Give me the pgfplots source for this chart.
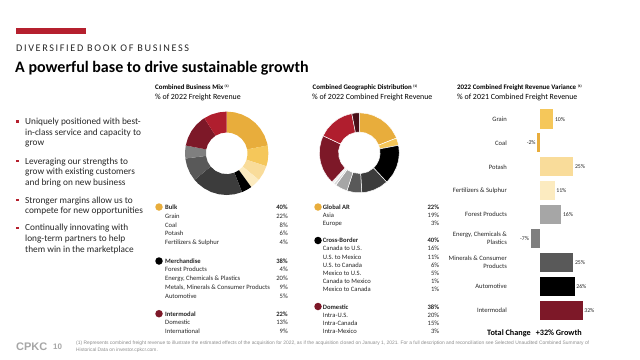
\documentclass[border=0pt]{standalone}
\usepackage{pgfplots}
\pgfplotsset{compat=1.18}
\usepgfplotslibrary{polar}
\usepackage{fontspec}
\setmainfont{Carlito}
\newfontfamily\arialfont{Liberation Sans}
\newfontfamily\spacedfont[LetterSpace=16]{Carlito}
\definecolor{cpred}{HTML}{B5202E}
\definecolor{gold}{HTML}{E8AD3C}
\definecolor{gold2}{HTML}{F5C75A}
\definecolor{tan1}{HTML}{F9DC9A}
\definecolor{tan2}{HTML}{FCEBC0}
\definecolor{dred}{HTML}{7D1828}
\definecolor{mred}{HTML}{B01E2E}
\definecolor{maroon}{HTML}{4A0F18}
\definecolor{gA}{HTML}{3C3C3C}
\definecolor{gB}{HTML}{595959}
\definecolor{gC}{HTML}{7F7F7F}
\definecolor{gD}{HTML}{A6A6A6}
\definecolor{gE}{HTML}{D9D9D9}
\definecolor{gF}{HTML}{EFEFEF}
\definecolor{txt}{HTML}{262626}
\definecolor{foot}{HTML}{8C8C8C}
\newcommand{\fs}[2]{\fontsize{#1bp}{#2bp}\selectfont}
\newcommand{\fnref}{\raisebox{2.2bp}{\fs{3.6}{4}(1)}}
\begin{document}
\begin{tikzpicture}[x=1bp,y=-1bp]
\path[use as bounding box] (0,0) rectangle (640,359);
% header
\node[anchor=north west,inner sep=0,outer sep=0] at (16,28) {\textcolor{cpred}{\rule{70bp}{6bp}}};
\node[anchor=base west,inner sep=0,text=txt,font=\spacedfont\fs{10.2}{12}] at (16,51) {DIVERSIFIED BOOK OF BUSINESS};
\node[anchor=base west,inner sep=0,text=black,font=\bfseries\fs{16}{18}] at (15,72) {A powerful base to drive sustainable growth};
% bullets
\foreach \yy/\tt in {124.5/{Uniquely positioned with best-},135.2/{in-class service and capacity to},145.9/{grow},
  164/{Leveraging our strengths to},174.7/{grow with existing customers},185.4/{and bring on new business},
  203/{Stronger margins allow us to},213.7/{compete for new opportunities},
  230.8/{Continually innovating with},241.5/{long-term partners to help},252.2/{them win in the marketplace}}
  {\node[anchor=base west,inner sep=0,text=txt,font=\fs{9.3}{11}] at (25,\yy) {\tt};}
\foreach \yy in {124.5,164,203,230.8}{\node[anchor=south west,inner sep=0,outer sep=0,fill=cpred,minimum width=2.3bp,minimum height=2.3bp] at (16.2,\yy-1.8) {};}
% panel headers
\node[anchor=base west,inner sep=0,font=\bfseries\fs{6.9}{8}] at (155,89.5) {Combined Business Mix \fnref};
\node[anchor=base west,inner sep=0,font=\fs{7.9}{9}] at (155,99.5) {\% of 2022 Freight Revenue};
\node[anchor=base west,inner sep=0,font=\bfseries\fs{6.9}{8}] at (312.5,89.5) {Combined Geographic Distribution \fnref};
\node[anchor=base west,inner sep=0,font=\fs{7.9}{9}] at (312,99.5) {\% of 2022 Combined Freight Revenue};
\node[anchor=base west,inner sep=0,font=\bfseries\fs{6.9}{8}] at (457,89.5) {2022 Combined Freight Revenue Variance \fnref};
\node[anchor=base west,inner sep=0,font=\fs{7.9}{9}] at (457,99.5) {\% of 2021 Combined Freight Revenue};
% donut 1
\begin{polaraxis}[at={(226.7bp,-153.3bp)},anchor=center,scale only axis,width=83.4bp,height=83.4bp,
  ymin=0,ymax=1,hide axis,clip=false,x filter/.expression={90-3.6*x}]
\addplot[fill=gold,draw=none] coordinates {(0,1)(3,1)(6,1)(9,1)(12,1)(15,1)(18,1)(21,1)(22,1)(22,.5)(17.5,.5)(13,.5)(8.5,.5)(4,.5)(0,.5)} --cycle;
\addplot[fill=gold2,draw=none] coordinates {(22,1)(25,1)(28,1)(30,1)(30,.5)(26,.5)(22,.5)} --cycle;
\addplot[fill=tan1,draw=none] coordinates {(30,1)(33,1)(36,1)(36,.5)(33,.5)(30,.5)} --cycle;
\addplot[fill=tan2,draw=none] coordinates {(36,1)(38,1)(40,1)(40,.5)(36,.5)} --cycle;
\addplot[fill=black,draw=none] coordinates {(40,1)(42,1)(44,1)(44,.5)(40,.5)} --cycle;
\addplot[fill=gA,draw=none] coordinates {(44,1)(47,1)(50,1)(53,1)(56,1)(59,1)(62,1)(64,1)(64,.5)(59,.5)(54,.5)(49,.5)(44,.5)} --cycle;
\addplot[fill=gB,draw=none] coordinates {(64,1)(67,1)(70,1)(73,1)(73,.5)(68.5,.5)(64,.5)} --cycle;
\addplot[fill=gC,draw=none] coordinates {(73,1)(75.5,1)(78,1)(78,.5)(73,.5)} --cycle;
\addplot[fill=dred,draw=none] coordinates {(78,1)(81,1)(84,1)(87,1)(90,1)(91,1)(91,.5)(86.5,.5)(82,.5)(78,.5)} --cycle;
\addplot[fill=mred,draw=none] coordinates {(91,1)(94,1)(97,1)(100,1)(100,.5)(95.5,.5)(91,.5)} --cycle;
\end{polaraxis}
% donut 2
\begin{polaraxis}[at={(359.3bp,-152.8bp)},anchor=center,scale only axis,width=80bp,height=80bp,
  ymin=0,ymax=1,hide axis,clip=false,x filter/.expression={90-3.6*x},
  every axis plot/.append style={draw=white,line width=0.5bp}]
\addplot[fill=gold] coordinates {(0,1)(3,1)(6,1)(9,1)(12,1)(15,1)(18,1)(19,1)(19,.52)(14.5,.52)(10,.52)(5,.52)(0,.52)} --cycle;
\addplot[fill=gold2] coordinates {(19,1)(20.5,1)(22,1)(22,.52)(19,.52)} --cycle;
\addplot[fill=black] coordinates {(22,1)(25,1)(28,1)(31,1)(34,1)(37,1)(38,1)(38,.52)(34,.52)(30,.52)(26,.52)(22,.52)} --cycle;
\addplot[fill=gA] coordinates {(38,1)(41,1)(44,1)(47,1)(49,1)(49,.52)(43.5,.52)(38,.52)} --cycle;
\addplot[fill=gB] coordinates {(49,1)(52,1)(55,1)(55,.52)(49,.52)} --cycle;
\addplot[fill=gD] coordinates {(55,1)(57.5,1)(60,1)(60,.52)(55,.52)} --cycle;
\addplot[fill=gE] coordinates {(60,1)(61,1)(61,.52)(60,.52)} --cycle;
\addplot[fill=gF] coordinates {(61,1)(62,1)(62,.52)(61,.52)} --cycle;
\addplot[fill=dred] coordinates {(62,1)(65,1)(68,1)(71,1)(74,1)(77,1)(80,1)(82,1)(82,.52)(77,.52)(72,.52)(67,.52)(62,.52)} --cycle;
\addplot[fill=mred] coordinates {(82,1)(85,1)(88,1)(91,1)(94,1)(97,1)(97,.52)(92,.52)(87,.52)(82,.52)} --cycle;
\addplot[fill=maroon] coordinates {(97,1)(98.5,1)(100,1)(100,.52)(97,.52)} --cycle;
\end{polaraxis}
% legend 1
\node[circle,fill=gold,minimum size=7.5bp,inner sep=0] at (159,207) {};
\node[circle,fill=black,minimum size=7.5bp,inner sep=0] at (159,261) {};
\node[circle,fill=dred,minimum size=7.5bp,inner sep=0] at (159,313.7) {};
\foreach \yy/\aa/\bb/\ff in {209.5/Bulk/40/\bfseries,218.3/Grain/22/,227.1/Coal/8/,235.9/Potash/6/,244.7/{Fertilizers \& Sulphur}/4/,
  263/Merchandise/38/\bfseries,271.8/{Forest Products}/4/,280.6/{Energy, Chemicals \& Plastics}/20/,289.4/{Metals, Minerals \& Consumer Products}/9/,298.2/Automotive/5/,
  316/Intermodal/22/\bfseries,324.8/Domestic/13/,333.6/International/9/}
{\node[anchor=base west,inner sep=0,text=txt,font=\ff\fs{6.6}{8}] at (165,\yy) {\aa};
 \node[anchor=base east,inner sep=0,text=txt,font=\ff\fs{6.6}{8}] at (288,\yy) {\bb\%};}
% legend 2
\node[circle,fill=gold,minimum size=7.5bp,inner sep=0] at (318,207) {};
\node[circle,fill=black,minimum size=7.5bp,inner sep=0] at (318,240.5) {};
\node[circle,fill=dred,minimum size=7.5bp,inner sep=0] at (318,306.5) {};
\foreach \yy/\aa/\bb/\ff in {209.2/{Global AR}/22/\bfseries,217.4/Asia/19/,225.6/Europe/3/,
  242.7/Cross-Border/40/\bfseries,250.9/{Canada to U.S.}/16/,259.1/{U.S. to Mexico}/11/,267.3/{U.S. to Canada}/6/,275.5/{Mexico to U.S.}/5/,283.7/{Canada to Mexico}/1/,291.9/{Mexico to Canada}/1/,
  309/Domestic/38/\bfseries,317.2/Intra-U.S./20/,325.4/Intra-Canada/15/,333.6/Intra-Mexico/3/}
{\node[anchor=base west,inner sep=0,text=txt,font=\ff\fs{6.6}{8}] at (322.7,\yy) {\aa};
 \node[anchor=base east,inner sep=0,text=txt,font=\ff\fs{6.6}{8}] at (439.3,\yy) {\bb\%};}
% bar chart
\begin{axis}[at={(513.3bp,-107.1bp)},anchor=north west,scale only axis,width=106.67bp,height=214.9bp,
  xmin=-20,xmax=60,ymin=-0.5,ymax=8.5,y dir=reverse,xbar,bar shift=0pt,bar width=0.8,
  axis line style={draw=none},tick style={draw=none},xtick=\empty,ytick={0,...,8},
  yticklabels={Grain,Coal,Potash,{Fertilizers \& Sulphur},{Forest Products},{Energy, Chemicals \&\\Plastics},{Minerals \& Consumer\\Products},Automotive,Intermodal},
  yticklabel style={font=\fs{6.6}{8.4},text=txt,align=right,inner sep=0pt,xshift=-2bp},
  nodes near coords={\pgfmathprintnumber{\pgfplotspointmeta}\%},point meta=x,
  /pgf/number format/assume math mode=true,
  nodes near coords style={font=\fs{5.8}{7},text=txt,inner sep=1.5bp},
  clip=false]
\addplot[fill=gold2,draw=none] coordinates {(10,0)};
\addplot[fill=gold,draw=none,every node near coord/.append style={anchor=east}] coordinates {(-2,1)};
\addplot[fill=tan1,draw=none] coordinates {(25,2)};
\addplot[fill=tan2,draw=none] coordinates {(11,3)};
\addplot[fill=gD,draw=none] coordinates {(16,4)};
\addplot[fill=gC,draw=none,every node near coord/.append style={anchor=east}] coordinates {(-7,5)};
\addplot[fill=gB,draw=none] coordinates {(25,6)};
\addplot[fill=black,draw=none] coordinates {(26,7)};
\addplot[fill=dred,draw=none] coordinates {(32,8)};
\end{axis}
\node[anchor=base west,inner sep=0,font=\bfseries\fs{8.2}{10}] at (487,335) {Total Change\hspace{5bp}+32\% Growth};
% footer
\node[anchor=base west,inner sep=0,text=gD,font=\arialfont\bfseries\fs{11}{12}] at (16,350.5) {CPKC};
\node[anchor=base west,inner sep=0,text=gD,font=\arialfont\bfseries\fs{8}{9}] at (53,349.5) {10};
\node[anchor=base west,inner sep=0,text=foot,font=\arialfont\fs{4.9}{6}] at (76,344.5) {(1) Represents combined freight revenue to illustrate the estimated effects of the acquisition for 2022, as if the acquisition closed on January 1, 2021. For a full description and reconciliation see Selected Unaudited Combined Summary of};
\node[anchor=base west,inner sep=0,text=foot,font=\arialfont\fs{4.9}{6}] at (76,351) {Historical Data on investor.cpkcr.com.};
\end{tikzpicture}
\end{document}
